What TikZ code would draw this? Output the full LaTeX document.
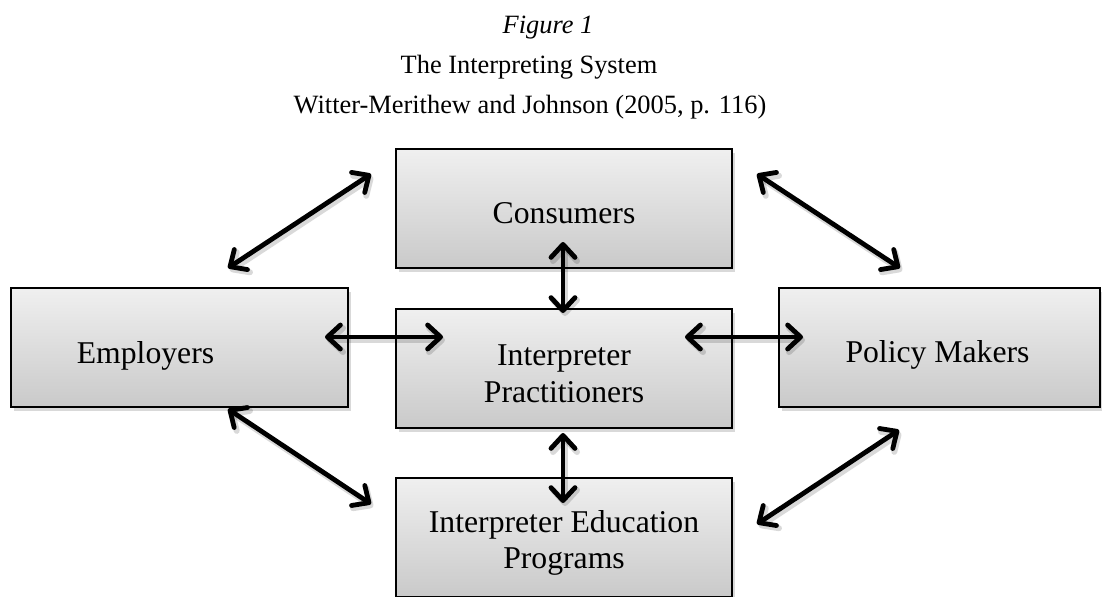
\documentclass[tikz,border=0pt]{standalone}
\usepackage{fontspec}
\setmainfont{Liberation Serif}
\usetikzlibrary{arrows.meta,shadows}
\begin{document}
\begin{tikzpicture}[x=0.5pt,y=-0.5pt,
  box/.style={draw=black, line width=0.8pt, top color=black!6, bottom color=black!21,
    minimum height=59.5pt, inner sep=0pt,
    drop shadow={shadow xshift=1.5pt, shadow yshift=-1.8pt, opacity=0.3}},
  lbl/.style={font=\fontsize{15.85}{18.5}\selectfont, inner sep=0pt, anchor=base},
  ttl/.style={font=\fontsize{13.2}{16}\selectfont, inner sep=0pt, anchor=base},
  tipx/.tip={Straight Barb[length=6.5pt,width=12pt,round]},
  link/.style={line width=2.4pt, draw=black, {tipx}-{tipx}},
  linkshadow/.style={line width=3pt, draw=black, opacity=0.15, {tipx}-{tipx}},
]
\useasboundingbox (0,0) rectangle (1102,596);
\clip (0,0) rectangle (1102,596);

% titles
\node[ttl] (fig) at (548,33) {\itshape Figure 1};
\node[ttl] (title) at (529,73) {The Interpreting System};
\node[ttl] (src) at (530,113) {Witter-Merithew and Johnson (2005, p. 116)};

% boxes
\node[box, minimum width=168pt] (cons) at (564,208.5) {};
\node[box, minimum width=168.5pt] (emp) at (179.5,347.5) {};
\node[box, minimum width=160.5pt] (pol) at (939.5,347.5) {};
\node[box, minimum width=168pt] (prac) at (564,368.5) {};
\node[box, minimum width=168pt] (edu) at (564,537.5) {};

% labels
\node[lbl] (tcons) at (564,223) {Consumers};
\node[lbl] (temp) at (145.5,363) {Employers};
\node[lbl] (tpol) at (937.5,362) {Policy Makers};
\node[lbl] (tprac1) at (564,365) {Interpreter};
\node[lbl] (tprac2) at (564,402) {Practitioners};
\node[lbl] (tedu1) at (564,532) {Interpreter Education};
\node[lbl] (tedu2) at (564,568) {Programs};

% arrow end points
\coordinate (a1s) at (228,268); \coordinate (a1e) at (371,174);
\coordinate (a2s) at (757,174); \coordinate (a2e) at (900,268);
\coordinate (a3s) at (228,409); \coordinate (a3e) at (371,504);
\coordinate (a4s) at (757,524); \coordinate (a4e) at (899,430);
\coordinate (h1s) at (325,337); \coordinate (h1e) at (443,337);
\coordinate (h2s) at (685,337); \coordinate (h2e) at (803,337);
\coordinate (v1s) at (563,242); \coordinate (v1e) at (563,313);
\coordinate (v2s) at (563,433); \coordinate (v2e) at (563,503);

\foreach \p/\q in {a1s/a1e,a2s/a2e,a3s/a3e,a4s/a4e,h1s/h1e,h2s/h2e,v1s/v1e,v2s/v2e}{
  \draw[linkshadow] ([shift={(2,3)}]\p) -- ([shift={(2,3)}]\q);
  \draw[link] (\p) -- (\q);
}
\end{tikzpicture}
\end{document}
